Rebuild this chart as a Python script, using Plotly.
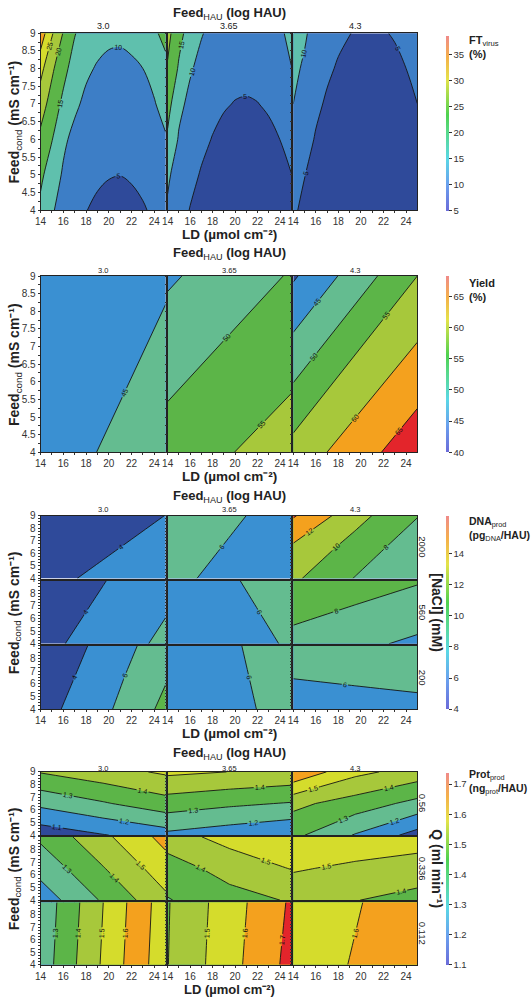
import plotly.graph_objects as go

W, H = 532, 1001

# ---------------- data ----------------
FEED_HAU = ["3.0", "3.65", "4.3"]
NACL = ["2000", "560", "200"]
Q_FLOW = ["0.56", "0.336", "0.112"]

# FT_virus (%) : rows = Feed_cond, cols = LD
FT_LD = [14, 15, 16, 17, 18, 19, 20, 21, 22, 23, 24, 25]
FT_COND = [4, 5, 6, 7, 8, 9]
FT_30 = [
    [13.5, 10.5, 8.1, 6.4, 5.1, 4.2, 3.7, 3.6, 3.9, 4.6, 5.7, 7.2],
    [16.3, 11.7, 9.6, 7.9, 6.6, 5.7, 5.2, 5.05, 5.4, 6.1, 7.2, 8.6],
    [18.8, 15.2, 10.6, 9.1, 7.9, 7.0, 6.5, 6.4, 6.7, 7.3, 8.4, 9.7],
    [22.2, 18.0, 13.8, 10.6, 9.3, 8.3, 7.8, 7.7, 8.0, 8.7, 9.8, 11.2],
    [26.5, 20.8, 16.6, 12.7, 10.56, 9.7, 9.2, 9.1, 9.4, 10.0, 11.0, 13.2],
    [33.0, 25.5, 19.7, 15.3, 12.5, 11.2, 10.7, 10.6, 11.0, 12.0, 14.0, 17.0],
]
FT_365 = [
    [9.4, 6.7, 4.83, 3.34, 2.18, 1.36, 0.89, 0.75, 0.96, 1.5, 2.38, 3.61],
    [10.7, 8.0, 6.15, 4.66, 3.5, 2.68, 2.21, 2.07, 2.28, 2.82, 3.7, 4.93],
    [14.2, 9.5, 7.47, 5.98, 4.82, 4.0, 3.53, 3.39, 3.6, 4.14, 5.02, 6.25],
    [16.8, 11.2, 8.79, 7.3, 6.14, 5.32, 4.85, 4.71, 4.92, 5.46, 6.34, 7.8],
    [19.5, 14.4, 10.5, 8.62, 7.46, 6.64, 6.17, 6.03, 6.24, 6.78, 7.66, 9.9],
    [21.5, 16.5, 13.0, 10.3, 8.78, 7.96, 7.49, 7.35, 7.56, 8.1, 9.4, 11.0],
]
FT_43 = [
    [5.6, 4.1, 2.96, 1.93, 1.14, 0.59, 0.28, 0.2, 0.37, 0.78, 1.43, 2.32],
    [7.0, 5.1, 3.85, 2.82, 2.03, 1.48, 1.17, 1.09, 1.26, 1.67, 2.32, 3.21],
    [8.5, 6.2, 4.74, 3.71, 2.92, 2.37, 2.06, 1.98, 2.15, 2.56, 3.21, 4.1],
    [10.0, 7.4, 5.63, 4.6, 3.81, 3.26, 2.95, 2.87, 3.04, 3.45, 4.1, 4.99],
    [11.6, 9.0, 6.52, 5.49, 4.7, 4.15, 3.84, 3.76, 3.93, 4.34, 4.99, 5.88],
    [13.2, 10.9, 7.41, 6.38, 5.59, 5.04, 4.73, 4.65, 4.82, 5.23, 5.88, 6.77],
]

# Yield (%) : corner values
YLD_LD = [14, 25]
YLD_COND = [4, 9]
YIELD_30 = [[43.3, 47.1], [40.8, 44.6]]
YIELD_365 = [[52.3, 57.3], [44.3, 50.4]]
YIELD_43 = [[56.9, 68.3], [39.4, 55.0]]

# coarse grid for DNA_prod and Prot_prod
G_LD = [14, 19.5, 25]
G_COND = [4, 6.5, 9]

DNA_2000 = [
    [[3.36, 4.46, 5.56], [2.58, 3.69, 4.79], [1.80, 2.91, 4.02]],
    [[6.52, 5.42, 4.32], [6.96, 5.86, 4.76], [7.40, 6.30, 5.20]],
    [[10.35, 7.9, 6.5], [11.7, 9.24, 6.75], [14.2, 10.7, 8.1]],
]
DNA_560 = [
    [[3.41, 4.91, 6.41], [2.915, 4.415, 5.915], [2.42, 3.92, 5.42]],
    [[4.22, 5.21, 6.2], [4.53, 5.52, 6.51], [4.84, 5.83, 6.82]],
    [[7.25, 6.44, 5.63], [8.53, 7.7, 6.9], [9.8, 8.99, 8.18]],
]
DNA_200 = [
    [[3.24, 5.55, 8.52], [2.75, 5.06, 7.85], [2.26, 4.57, 7.19]],
    [[4.42, 5.52, 6.62], [4.55, 5.65, 6.75], [4.68, 5.78, 6.88]],
    [[4.8, 5.08, 5.35], [6.05, 6.33, 6.6], [7.3, 7.58, 7.85]],
]

PROT_056 = [
    [[1.04, 1.095, 1.15], [1.223, 1.29, 1.36], [1.406, 1.461, 1.515]],
    [[1.179, 1.144, 1.108], [1.35, 1.318, 1.293], [1.52, 1.499, 1.478]],
    [[1.325, 1.193, 1.062], [1.425, 1.355, 1.27], [1.685, 1.526, 1.458]],
]
PROT_0336 = [
    [[1.146, 1.312, 1.478], [1.2325, 1.394, 1.5555], [1.319, 1.476, 1.633]],
    [[1.295, 1.355, 1.41], [1.345, 1.445, 1.503], [1.46, 1.532, 1.58]],
    [[1.43, 1.403, 1.365], [1.51, 1.48, 1.456], [1.59, 1.568, 1.547]],
]
# Q = 0.112, Feed 3.0 needs a finer LD grid
P0112_30_LD = [14, 15, 16, 17, 18, 19, 20, 21, 22, 23, 24, 25]
P0112_30_COND = [4, 9]
P0112_30 = [
    [1.244, 1.293, 1.343, 1.393, 1.441, 1.489, 1.537, 1.585, 1.634, 1.64, 1.56, 1.54],
    [1.23, 1.279, 1.328, 1.378, 1.427, 1.475, 1.524, 1.572, 1.62, 1.645, 1.585, 1.55],
]
PROT_0112_365 = [[1.398, 1.5645, 1.731], [1.396, 1.5595, 1.7225], [1.394, 1.554, 1.714]]
PROT_0112_43 = [[1.542, 1.608, 1.674], [1.534, 1.6, 1.666], [1.526, 1.592, 1.658]]

# ---------------- styling ----------------
FONT = "Liberation Sans, Arial, sans-serif"
DB, BL_FT, BL = "#2f4a9a", "#3d7ec6", "#3a90d2"
TE_FT, TE = "#5fc0ad", "#64bc90"
GR, YG, YE, OR, RE = "#5cb548", "#a7c83b", "#d5dc2c", "#f4a11e", "#e3252b"

FT_COLORS = [DB, BL_FT, TE_FT, GR, YG, YE, OR]
YIELD_COLORS = [DB, BL, TE, GR, YG, OR, RE]
DNA_COLORS = [DB, BL, TE, GR, YG, OR, RE]
PROT_COLORS = [DB, BL, TE, GR, YG, YE, OR, RE]

BAR_SCALE = [[0, "#6b6bd9"], [0.15, "#6aa0ee"], [0.3, "#5ad8e6"], [0.45, "#57d98a"],
             [0.55, "#4fd24f"], [0.75, "#e4e34a"], [0.88, "#f5b04a"], [1, "#f08a8a"]]

COLS = [(35, 161.5), (163.5, 288.5), (290.5, 416)]

fig = go.Figure()
axes = {}
counter = [0]


def add_axes(col, top, bottom, show_x, show_y, yticks):
    counter[0] += 1
    n = counter[0]
    s = "" if n == 1 else str(n)
    l, r = COLS[col]
    common = dict(showline=True, mirror=True, linecolor="#222", linewidth=1,
                  showgrid=False, zeroline=False, ticks="outside", ticklen=2,
                  tickcolor="#333", tickfont=dict(size=10, color="#333", family=FONT))
    axes["xaxis" + s] = dict(domain=[l / W, r / W], anchor="y" + s, range=[14, 25],
                             tickvals=[14, 16, 18, 20, 22, 24], showticklabels=show_x,
                             minor=dict(tickvals=[15, 17, 19, 21, 23], ticks="outside",
                                        ticklen=2, tickcolor="#333"),
                             **common)
    axes["yaxis" + s] = dict(domain=[1 - bottom / H, 1 - top / H], anchor="x" + s,
                             range=[4, 9], tickvals=yticks, showticklabels=show_y,
                             minor=dict(dtick=0.25, ticks="outside", ticklen=2,
                                        tickcolor="#333"),
                             **common)
    return "x" + s, "y" + s


def add_contour(xa, ya, x, y, z, start, end, size, colors, smooth=0.0):
    nb = len(colors)
    cs = [[i / (nb - 1), c] for i, c in enumerate(colors)]
    fig.add_trace(go.Contour(
        x=x, y=y, z=z, xaxis=xa, yaxis=ya, colorscale=cs, showscale=False,
        autocontour=False,
        contours=dict(start=start, end=end, size=size, coloring="fill",
                      showlabels=True,
                      labelfont=dict(size=7, color="#111", family=FONT)),
        line=dict(color="#151515", width=0.9, smoothing=smooth),
        hoverinfo="skip"))


def add_colorbar(top, bottom, cmin, cmax, tickvals):
    fig.add_trace(go.Scatter(
        x=[None], y=[None], mode="markers", showlegend=False, hoverinfo="skip",
        marker=dict(colorscale=BAR_SCALE, cmin=cmin, cmax=cmax, color=[cmin],
                    showscale=True,
                    colorbar=dict(x=445 / W, xanchor="left", y=1 - bottom / H,
                                  yanchor="bottom", len=(bottom - top) / H,
                                  lenmode="fraction", thickness=3, outlinewidth=0,
                                  xpad=0, ypad=0, ticks="outside", ticklen=3,
                                  tickcolor="#333", tickvals=tickvals,
                                  tickfont=dict(size=9.5, color="#333", family=FONT)))))


ann = []


def text(px, py, t, size=10, angle=0, xanchor="center", yanchor="middle",
         align="center"):
    ann.append(dict(x=px / W, y=1 - py / H, xref="paper", yref="paper", text=t,
                    showarrow=False, textangle=angle, xanchor=xanchor, yanchor=yanchor,
                    align=align, borderpad=0,
                    font=dict(size=size, color="#222", family=FONT)))


Y_HALF = [4, 4.5, 5, 5.5, 6, 6.5, 7, 7.5, 8, 8.5, 9]

# ---------- Panel 1 : FT_virus ----------
P1 = (27.5, 206.7)
for c, z in enumerate([FT_30, FT_365, FT_43]):
    xa, ya = add_axes(c, P1[0], P1[1], True, c == 0, Y_HALF)
    add_contour(xa, ya, FT_LD, FT_COND, z, 5, 30, 5, FT_COLORS, smooth=1.0)
add_colorbar(30, 207, 5, 38.6, [5, 10, 15, 20, 25, 30, 35])

# ---------- Panel 2 : Yield ----------
P2 = (273.3, 451.7)
for c, z in enumerate([YIELD_30, YIELD_365, YIELD_43]):
    xa, ya = add_axes(c, P2[0], P2[1], True, c == 0, Y_HALF)
    add_contour(xa, ya, YLD_LD, YLD_COND, z, 40, 65, 5, YIELD_COLORS)
add_colorbar(274, 451.7, 40, 68.2, [40, 45, 50, 55, 60, 65])

# ---------- Panel 3 : DNA_prod ----------
ROWS3 = [(515.7, 579.5), (581.5, 645.5), (647.5, 711.7)]
for r, block in enumerate([DNA_2000, DNA_560, DNA_200]):
    for c, z in enumerate(block):
        yt = [4, 5, 6, 7, 8, 9] if r == 0 else [4, 5, 6, 7, 8]
        xa, ya = add_axes(c, ROWS3[r][0], ROWS3[r][1], r == 2, c == 0, yt)
        add_contour(xa, ya, G_LD, G_COND, z, 4, 14, 2, DNA_COLORS)
add_colorbar(516, 711.7, 4, 16.4, [4, 6, 8, 10, 12, 14])

# ---------- Panel 4 : Prot_prod ----------
ROWS4 = [(775.2, 839.2), (841.0, 905.0), (907.0, 970.3)]
prot_rows = [
    [(G_LD, G_COND, PROT_056[0]), (G_LD, G_COND, PROT_056[1]), (G_LD, G_COND, PROT_056[2])],
    [(G_LD, G_COND, PROT_0336[0]), (G_LD, G_COND, PROT_0336[1]), (G_LD, G_COND, PROT_0336[2])],
    [(P0112_30_LD, P0112_30_COND, P0112_30), (G_LD, G_COND, PROT_0112_365),
     (G_LD, G_COND, PROT_0112_43)],
]
for r, row in enumerate(prot_rows):
    for c, (x, y, z) in enumerate(row):
        yt = [4, 5, 6, 7, 8, 9] if r == 0 else [4, 5, 6, 7, 8]
        xa, ya = add_axes(c, ROWS4[r][0], ROWS4[r][1], r == 2, c == 0, yt)
        add_contour(xa, ya, x, y, z, 1.1, 1.7, 0.1, PROT_COLORS)
add_colorbar(776.2, 970.3, 1.1, 1.738, [1.1, 1.2, 1.3, 1.4, 1.5, 1.6, 1.7])

# ---------- texts ----------
HAU_T = "<b>Feed</b><sub>HAU</sub><b> (log HAU)</b>"
LD_T = "<b>LD (µmol cm⁻²)</b>"
COND_T = "<b>Feed</b><sub>cond</sub><b> (mS cm⁻¹)</b>"
col_centres = [(a + b) / 2 for a, b in COLS]

for title_y, sub_y, ld_y, yc, subsize, ldsize in [
        (8, 20, 231, 117, 9, 13.5), (251, 268, 476.5, 362.5, 7.5, 13.5),
        (496, 510, 736.5, 613.7, 7.5, 13.5), (757, 771.5, 995.5, 872.8, 7.5, 13)]:
    text(226, title_y, HAU_T, size=13)
    for cx, lab in zip(col_centres, FEED_HAU):
        text(cx, sub_y, lab, size=subsize)
    text(226, ld_y, LD_T, size=ldsize)
    text(9, yc, COND_T, size=14, angle=-90)

for rows, labs, ttl in [(ROWS3, NACL, "<b>[NaCl] (mM)</b>"),
                        (ROWS4, Q_FLOW, "<b>Q (ml min⁻¹)</b>")]:
    for (t, b), lab in zip(rows, labs):
        text(421.5, (t + b) / 2, lab, size=9.5, angle=90)
    text(436, (rows[0][0] + rows[2][1]) / 2, ttl, size=14, angle=90)

for py, t, fs in [(27, "<b>FT</b><sub>virus</sub><br><b>(%)</b>", 11),
                  (273, "<b>Yield</b><br><b>(%)</b>", 11),
                  (514, "<b>DNA</b><sub>prod</sub><br><b>(pg</b><sub>DNA</sub><b>/HAU)</b>", 10.5),
                  (770, "<b>Prot</b><sub>prod</sub><br><b>(ng</b><sub>prot</sub><b>/HAU)</b>", 10.5)]:
    text(467.5, py, t, size=fs, xanchor="left", yanchor="top", align="left")

fig.update_layout(width=W, height=H, margin=dict(l=0, r=0, t=0, b=0),
                  paper_bgcolor="white", plot_bgcolor="white", showlegend=False,
                  font=dict(family=FONT, color="#222"), annotations=ann, **axes)

fig.write_html("out.html", config={"displayModeBar": False},
               post_script="document.body.style.margin='0';")
